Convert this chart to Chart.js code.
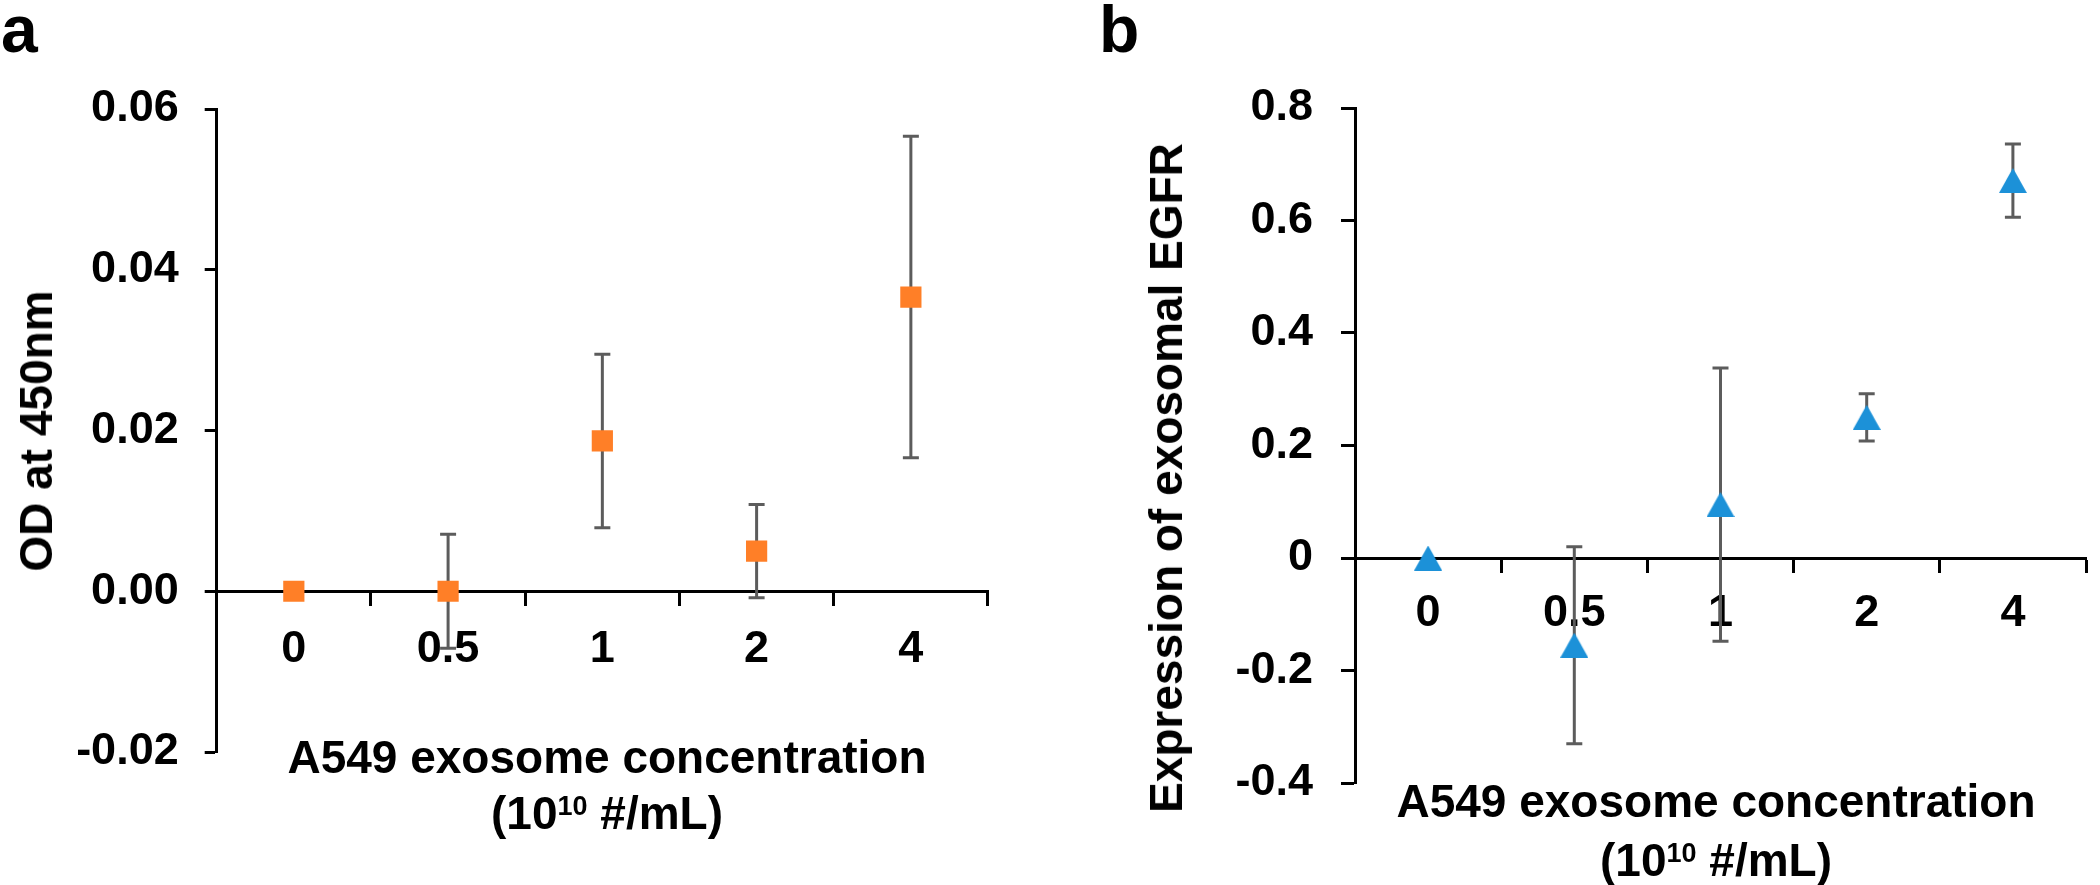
<!DOCTYPE html>
<html lang="en">
<head>
<meta charset="UTF-8">
<title>A549 exosome concentration</title>
<script src="https://cdn.jsdelivr.net/npm/chart.js"></script>
<style>
    body {
        margin: 0;
        width: 2100px;
        height: 885px;
        position: relative;
        overflow: hidden;
        background: #fff;
        font-family: "Liberation Sans", Arial, sans-serif;
        font-weight: bold;
        color: #000;
    }
    canvas { position: absolute; top: 0; }
    #chartA { left: 0; }
    #chartB { left: 1050px; }
    .letter { position: absolute; font-size: 66px; line-height: 66px; }
    .xtitle {
        position: absolute;
        font-size: 46px;
        text-align: center;
        white-space: nowrap;
        transform: translateX(-50%);
    }
    .ytitle {
        position: absolute;
        font-size: 46px;
        line-height: 46px;
        white-space: nowrap;
        transform: translate(-50%, -50%) rotate(-90deg);
    }
    .sup { font-size: 27px; position: relative; top: -14px; }
</style>
</head>
<body>
    <canvas id="chartA" width="1050" height="885"></canvas>
    <canvas id="chartB" width="1050" height="885"></canvas>

    <div class="letter" style="left:1px; top:-4px;">a</div>
    <div class="letter" style="left:1099px; top:-4px;">b</div>

    <div class="ytitle" style="left:36px; top:431px;">OD at 450nm</div>
    <div class="ytitle" style="left:1166px; top:478px;">Expression of exosomal EGFR</div>

    <div class="xtitle" style="left:607px; top:729px; line-height:56px;">A549 exosome concentration<br>(10<span class="sup">10</span> #/mL)</div>
    <div class="xtitle" style="left:1716px; top:772px; line-height:59px;">A549 exosome concentration<br>(10<span class="sup">10</span> #/mL)</div>

<script>
    // data
    const concLabels = ['0', '0.5', '1', '2', '4'];

    const odMeans  = [0, 0, 0.0187, 0.0050, 0.0366];
    const odErrors = [0, 0.0071, 0.0108, 0.0058, 0.0200];
    const odTicks  = [-0.02, 0, 0.02, 0.04, 0.06];

    const egfrMeans  = [0, -0.155, 0.095, 0.250, 0.671];
    const egfrErrors = [0, 0.175, 0.243, 0.042, 0.065];
    const egfrTicks  = [-0.4, -0.2, 0, 0.2, 0.4, 0.6, 0.8];

    const FONT = { family: '"Liberation Sans", Arial, sans-serif', size: 45, weight: 'bold' };

    // error bars, drawn under the markers
    const errorBars = {
        id: 'errorBars',
        beforeDatasetsDraw(chart, args, opts) {
            const { ctx, scales: { x, y } } = chart;
            const means = chart.data.datasets[0].data;
            ctx.save();
            ctx.strokeStyle = '#5c5c5c';
            ctx.lineWidth = 3;
            means.forEach((m, i) => {
                const e = opts.errors[i];
                if (!e) return;
                const px = x.getPixelForValue(i);
                const top = y.getPixelForValue(m + e);
                const bot = y.getPixelForValue(m - e);
                ctx.beginPath();
                ctx.moveTo(px, top); ctx.lineTo(px, bot);
                ctx.moveTo(px - 8, top); ctx.lineTo(px + 8, top);
                ctx.moveTo(px - 8, bot); ctx.lineTo(px + 8, bot);
                ctx.stroke();
            });
            ctx.restore();
        }
    };

    // Excel-like triangle, centred on its bounding box
    function triangleMarker(w, h, color) {
        const c = document.createElement('canvas');
        c.width = w; c.height = h;
        const g = c.getContext('2d');
        g.fillStyle = color;
        g.beginPath();
        g.moveTo(w / 2, 0);
        g.lineTo(w, h);
        g.lineTo(0, h);
        g.closePath();
        g.fill();
        return c;
    }

    function makeChart(id, opt) {
        return new Chart(document.getElementById(id), {
            type: 'line',
            data: {
                labels: concLabels,
                datasets: [{
                    data: opt.means,
                    showLine: false,
                    pointStyle: opt.pointStyle,
                    pointRadius: opt.pointRadius,
                    pointBackgroundColor: opt.color,
                    pointBorderWidth: 0,
                    pointHoverRadius: opt.pointRadius
                }]
            },
            options: {
                responsive: false,
                animation: false,
                devicePixelRatio: 1,
                events: [],
                layout: { padding: opt.padding },
                plugins: {
                    legend: { display: false },
                    tooltip: { enabled: false },
                    errorBars: { errors: opt.errors }
                },
                scales: {
                    x: {
                        type: 'category',
                        offset: true,
                        position: { y: 0 },
                        ticks: { color: '#000', font: FONT, padding: opt.xPad, maxRotation: 0, autoSkip: false },
                        grid: { offset: true, drawOnChartArea: false, drawTicks: true, tickLength: 13, tickColor: '#000', tickWidth: 3 },
                        border: { color: '#000', width: 3 }
                    },
                    y: {
                        min: opt.ticks[0],
                        max: opt.ticks[opt.ticks.length - 1],
                        ticks: {
                            stepSize: opt.ticks[1] - opt.ticks[0],
                            color: '#000',
                            font: FONT,
                            padding: opt.yPad,
                            callback: opt.format
                        },
                        grid: { drawOnChartArea: false, drawTicks: true, tickLength: opt.yTick, tickColor: '#000', tickWidth: 3 },
                        border: { color: '#000', width: 3 },
                        afterFit: s => { s.width = opt.axisLeft; }
                    }
                }
            },
            plugins: [errorBars]
        });
    }

    makeChart('chartA', {
        means: odMeans,
        errors: odErrors,
        ticks: odTicks,
        color: '#FF7F27',
        pointStyle: 'rect',
        pointRadius: 15,
        axisLeft: 216.7,
        padding: { top: 109, right: 62, bottom: 133, left: 0 },
        xPad: 18,
        yPad: 26,
        yTick: 12,
        format: v => v.toFixed(2)
    });

    makeChart('chartB', {
        means: egfrMeans,
        errors: egfrErrors,
        ticks: egfrTicks,
        color: '#1C91D8',
        pointStyle: triangleMarker(28, 25, '#1C91D8'),
        pointRadius: 14,
        axisLeft: 305,
        padding: { top: 108, right: 5, bottom: 102, left: 0 },
        xPad: 16,
        yPad: 28,
        yTick: 14,
        format: v => Math.abs(v) < 1e-9 ? '0' : v.toFixed(1)
    });
</script>
</body>
</html>
